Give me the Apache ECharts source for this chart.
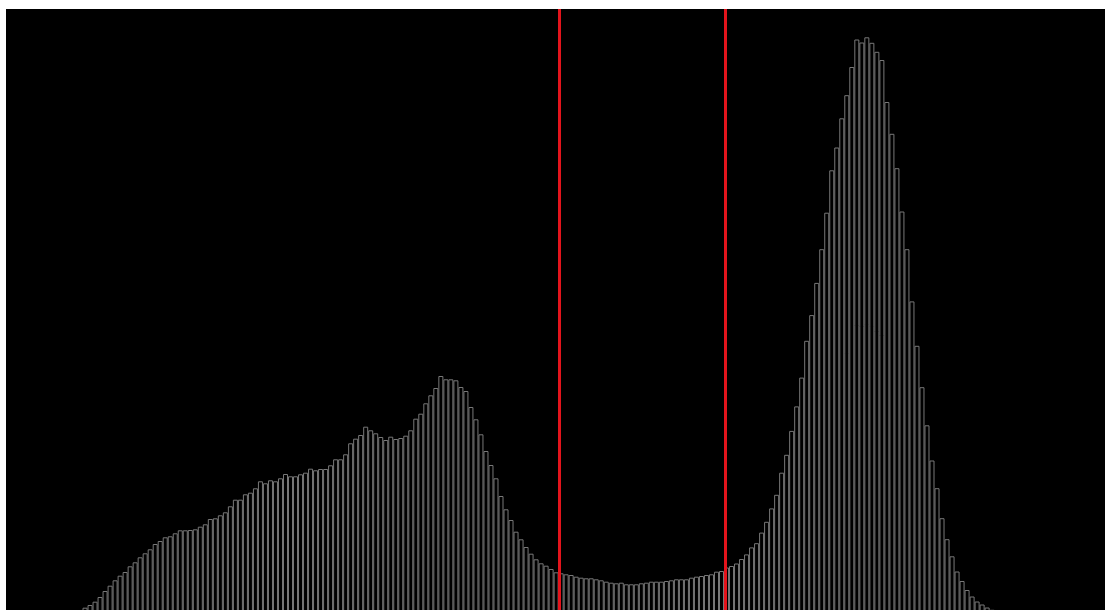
<!DOCTYPE html>
<html>
<head>
<meta charset="utf-8">
<script src="https://cdn.jsdelivr.net/npm/echarts@6/dist/echarts.min.js"></script>
<style>
html,body{margin:0;padding:0;background:#ffffff;}
#chart{width:1105px;height:610px;}
</style>
</head>
<body>
<div id="chart"></div>
<script>
// Histogram bin counts (arbitrary units) starting at bin index firstBin
const firstBin = 13;
const counts = [
  0.3, 1, 3.3, 6, 9.3, 14, 20, 25.3, 30.7, 35.3,
  39, 44.7, 48.7, 53.7, 57.7, 61.7, 67, 70, 73.7, 74.7,
  77.7, 80.7, 80.7, 81, 81.7, 84.3, 86.7, 92, 92.7, 95.7,
  98.7, 104.7, 111.3, 111.3, 116.7, 118.3, 122.7, 129.7, 127.7, 130.7,
  129.7, 132.7, 137, 134.7, 134.7, 136.7, 138.3, 142.3, 140.7, 142,
  142, 145.7, 151.7, 151.7, 156.7, 167.7, 172.3, 176, 184.3, 180.7,
  177.7, 174, 171, 174.3, 172, 173, 175.3, 180.7, 192.3, 197.3,
  207.7, 215.7, 223, 235, 231.7, 231.7, 230.7, 224, 220, 204,
  191.7, 176.7, 160, 146, 132.7, 115, 101.7, 91, 79.3, 71.7,
  64, 57.3, 51.7, 47.7, 45.3, 42, 38.7, 37.7, 36.7, 36,
  34.3, 33.3, 32.7, 32.7, 31.7, 30.7, 29.3, 28.3, 27.7, 28.3,
  26.7, 26.7, 26.7, 27.7, 28.3, 29.3, 29.3, 29.3, 30, 30.7,
  31.7, 31.7, 31.7, 33.3, 34.3, 35, 36, 36.7, 39.3, 40,
  43.5, 45, 47.5, 52, 56.6, 63.6, 67.8, 78.4, 89.2, 102.6,
  116.2, 138.3, 156.2, 180.1, 204.6, 233.4, 270.2, 295.9, 328.1, 361.8,
  398.3, 440.7, 463.5, 492.7, 515.8, 544, 571.5, 568.5, 573.7, 568.2,
  559.2, 551, 509, 477.2, 442.8, 399.5, 361.8, 309.6, 265.2, 223.8,
  185.7, 150.5, 122.8, 92.8, 71.8, 54.7, 39.5, 30, 21, 14.5,
  9.5, 6.5, 3.5, 1.2
];
// Threshold positions (in bin units) drawn as red vertical lines
const thresholds = [110.07, 143.2];
// Visible x range (bin units) and y range
const xRange = [-0.27, 219.02];
const yRange = [-3, 602];

const barData = counts.map((c, k) => [firstBin + k + 0.5, c]);

const chart = echarts.init(document.getElementById('chart'), null, {renderer: 'canvas'});
chart.setOption({
  animation: false,
  backgroundColor: '#ffffff',
  grid: {
    left: 6, top: 9, width: 1099, height: 605,
    outerBoundsMode: 'none',
    containLabel: false,
    show: true, backgroundColor: '#000000', borderWidth: 0
  },
  xAxis: {
    type: 'value', min: xRange[0], max: xRange[1], show: false,
    splitLine: {show: false}
  },
  yAxis: {
    type: 'value', min: yRange[0], max: yRange[1], show: false,
    splitLine: {show: false}
  },
  series: [{
    type: 'bar',
    data: barData,
    barWidth: '100%',
    itemStyle: {
      color: '#000000',
      borderColor: '#787878',
      borderWidth: 1
    },
    silent: true,
    markLine: {
      silent: true,
      symbol: ['none', 'none'],
      label: {show: false},
      lineStyle: {color: '#e3141c', width: 3, type: 'solid'},
      data: thresholds.map(t => ({xAxis: t}))
    }
  }]
});
</script>
</body>
</html>
